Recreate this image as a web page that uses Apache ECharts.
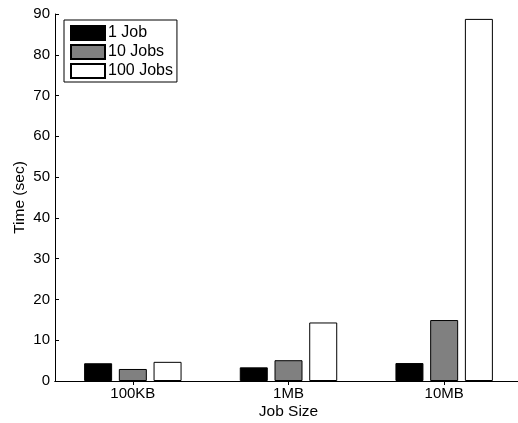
<!DOCTYPE html>
<html><head><meta charset="utf-8">
<script src="https://cdn.jsdelivr.net/npm/echarts@6/dist/echarts.min.js"></script>
<style>html,body{margin:0;padding:0;background:#fff}#c{width:518px;height:423px}</style>
</head><body><div id="c"></div>
<script>
const categories = ['100KB', '1MB', '10MB'];
const seriesNames = ['1 Job', '10 Jobs', '100 Jobs'];
const oneJob = [4.35, 3.35, 4.4];
const tenJobs = [2.95, 5.1, 14.95];
const hundredJobs = [4.7, 14.35, 88.8];
const yTicks = [0, 10, 20, 30, 40, 50, 60, 70, 80, 90];

const font = 'Liberation Sans, Arial, Helvetica, sans-serif';
const colors = ['#000000', '#808080', '#ffffff'];
const values = [oneJob, tenJobs, hundredJobs];

const chart = echarts.init(document.getElementById('c'), null, {renderer: 'canvas'});
chart.setOption({
  animation: false,
  backgroundColor: '#fff',
  grid: {left: 55, right: -4, top: 14, bottom: 42, containLabel: false, outerBoundsMode: 'none'},
  legend: {
    orient: 'vertical', left: 64, top: 20,
    data: seriesNames,
    itemWidth: 34, itemHeight: 14, itemGap: 3,
    padding: [5, 4, 3, 6],
    borderColor: '#000', borderWidth: 1, backgroundColor: '#fff',
    textStyle: {fontFamily: font, fontSize: 16, color: '#000', padding: [0, 0, 0, -2]},
    icon: 'rect'
  },
  xAxis: [{
    type: 'category', data: categories, position: 'bottom',
    name: 'Job Size', nameLocation: 'middle', nameGap: 23, nameMoveOverlap: false,
    nameTextStyle: {fontFamily: font, fontSize: 15.5, color: '#000'},
    axisLine: {lineStyle: {color: '#000', width: 1}},
    axisTick: {show: true, inside: true, alignWithLabel: true, length: 4, lineStyle: {color: '#000'}},
    axisLabel: {fontFamily: font, fontSize: 15, color: '#000', margin: 5},
    splitLine: {show: false}
  }, {
    type: 'category', data: categories, position: 'top',
    axisLine: {lineStyle: {color: '#000', width: 1}},
    axisTick: {show: true, inside: true, alignWithLabel: true, length: 4, lineStyle: {color: '#000'}},
    axisLabel: {show: false}, splitLine: {show: false}
  }],
  yAxis: [{
    type: 'value', min: 0, max: 90, interval: 10, position: 'left',
    name: 'Time (sec)', nameLocation: 'middle', nameGap: 27, nameMoveOverlap: false,
    nameTextStyle: {fontFamily: font, fontSize: 15.5, color: '#000'},
    axisLine: {show: true, lineStyle: {color: '#000', width: 1}},
    axisTick: {show: true, inside: true, length: 4, lineStyle: {color: '#000'}},
    axisLabel: {fontFamily: font, fontSize: 15, color: '#000', margin: 5,
      formatter: v => yTicks.includes(v) ? String(v) : ''},
    splitLine: {show: false}
  }, {
    type: 'value', min: 0, max: 90, interval: 10, position: 'right',
    axisLine: {show: true, lineStyle: {color: '#000', width: 1}},
    axisTick: {show: true, inside: true, length: 4, lineStyle: {color: '#000'}},
    axisLabel: {show: false}, splitLine: {show: false}
  }],
  series: seriesNames.map((n, i) => ({
    name: n, type: 'bar', data: values[i],
    xAxisIndex: 0, yAxisIndex: 0,
    barWidth: 28, barGap: '24%',
    itemStyle: {color: colors[i], borderColor: '#000', borderWidth: 1}
  }))
});
</script></body></html>
